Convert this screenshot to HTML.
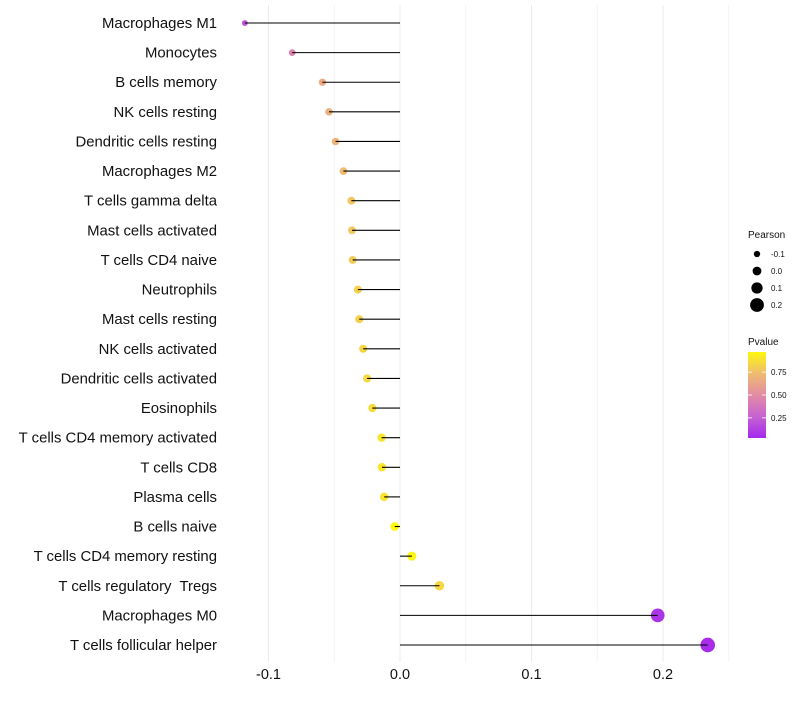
<!DOCTYPE html>
<html><head><meta charset="utf-8"><style>
body{margin:0;background:#fff;font-family:"Liberation Sans",sans-serif}
text{white-space:pre}
</style></head><body>
<svg id="chart" width="800" height="700" xmlns="http://www.w3.org/2000/svg" font-family="Liberation Sans, sans-serif"></svg>
<script>
const categories=["Macrophages M1","Monocytes","B cells memory","NK cells resting","Dendritic cells resting","Macrophages M2","T cells gamma delta","Mast cells activated","T cells CD4 naive","Neutrophils","Mast cells resting","NK cells activated","Dendritic cells activated","Eosinophils","T cells CD4 memory activated","T cells CD8","Plasma cells","B cells naive","T cells CD4 memory resting","T cells regulatory  Tregs","Macrophages M0","T cells follicular helper"];
const pearson=[-0.118,-0.082,-0.059,-0.054,-0.049,-0.043,-0.037,-0.0365,-0.036,-0.032,-0.031,-0.028,-0.025,-0.021,-0.014,-0.0137,-0.012,-0.004,0.009,0.030,0.196,0.234];
const pvalue=[0.2,0.45,0.65,0.68,0.7,0.73,0.78,0.78,0.8,0.82,0.82,0.84,0.85,0.86,0.9,0.9,0.9,0.98,0.96,0.85,0.08,0.05];
const xTicks=[-0.1,0.0,0.1,0.2];
const xTickLabels=["-0.1","0.0","0.1","0.2"];
const xMinor=[-0.05,0.05,0.15,0.25];
const sizeLegend=[-0.1,0.0,0.1,0.2];
const pLegend=[0.25,0.5,0.75];

const svg=document.getElementById('chart');
const NS='http://www.w3.org/2000/svg';
const x=v=>400+v*1315;
const y=i=>23+i*(622/21);
const r=v=>Math.max(1.5,4.4+12.5*v);
function col(p){
  const stops=[[0,[160,32,240]],[0.25,[196,96,212]],[0.5,[226,140,164]],[0.75,[240,190,110]],[1,[255,255,0]]];
  for(let k=1;k<stops.length;k++){if(p<=stops[k][0]){const a=stops[k-1],b=stops[k];const t=(p-a[0])/(b[0]-a[0]);return 'rgb('+a[1].map((c,j)=>Math.round(c+(b[1][j]-c)*t)).join(',')+')';}}
  return 'rgb(255,255,0)';
}
function mk(t,attrs,parent){const e=document.createElementNS(NS,t);for(const k in attrs)e.setAttribute(k,attrs[k]);(parent||svg).appendChild(e);return e;}
xMinor.forEach(v=>{const l=mk('line',{x1:x(v),x2:x(v),y1:5,y2:662,stroke:'#f3f3f3','stroke-width':1});

});
xTicks.forEach((v,i)=>{const l=mk('line',{x1:x(v),x2:x(v),y1:5,y2:662,stroke:'#ebebeb','stroke-width':1});


const t=mk('text',{x:x(v),y:679,'text-anchor':'middle','font-size':14.5,fill:'#111'});t.textContent=xTickLabels[i];

});
categories.forEach((c,i)=>{
  const t=mk('text',{x:217,y:y(i)+5,'text-anchor':'end','font-size':14.9,fill:'#111'});t.textContent=c;
  
  
  const p=mk('circle',{cx:x(pearson[i]),cy:y(i),r:r(pearson[i]),fill:col(pvalue[i])});
  
  
  const l=mk('line',{x1:x(0),x2:x(pearson[i]),y1:y(i),y2:y(i),stroke:'#000','stroke-width':1.1});
  
  
});
const lt=mk('text',{x:748,y:238,'font-size':10,fill:'#111'});lt.textContent='Pearson';


sizeLegend.forEach((v,i)=>{const cy=254+i*17;
 const c=mk('circle',{cx:757,cy:cy,r:r(v),fill:'#000'});
 
 
 const t=mk('text',{x:771,y:cy+3,'font-size':8,fill:'#111'});t.textContent=['-0.1','0.0','0.1','0.2'][i];
 
 });
const pt=mk('text',{x:748,y:345,'font-size':10,fill:'#111'});pt.textContent='Pvalue';


const defs=mk('defs',{});const g=mk('linearGradient',{id:'pg',x1:0,y1:1,x2:0,y2:0},defs);
[0,0.25,0.5,0.75,1].forEach(s=>{const p=0.03+s*0.94;mk('stop',{offset:s,'stop-color':col(p)},g);});
const bar=mk('rect',{x:748,y:352,width:18,height:86,fill:'url(#pg)'});


pLegend.forEach(v=>{const cy=438-(v-0.03)/0.94*86;
 mk('line',{x1:748,x2:752,y1:cy,y2:cy,stroke:'#fff','stroke-width':0.8});mk('line',{x1:762,x2:766,y1:cy,y2:cy,stroke:'#fff','stroke-width':0.8});
 const t=mk('text',{x:771,y:cy+3,'font-size':8,fill:'#111'});t.textContent=v.toFixed(2);
 
 });
</script>
</body></html>
